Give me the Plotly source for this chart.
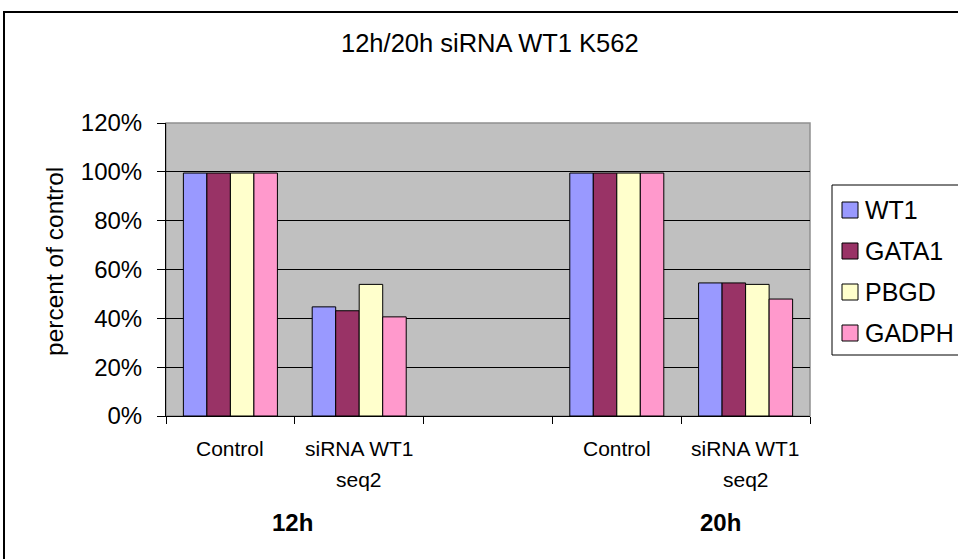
import plotly.graph_objects as go

# ---- data ----
categories = [["Control"], ["siRNA WT1", "seq2"], [], ["Control"], ["siRNA WT1", "seq2"]]
x_pos = [0, 1, 3, 4]
series_names = ["WT1", "GATA1", "PBGD", "GADPH"]
wt1 = [0.995, 0.447, 0.995, 0.545]
gata1 = [0.995, 0.431, 0.995, 0.545]
pbgd = [0.995, 0.539, 0.995, 0.539]
gadph = [0.995, 0.406, 0.995, 0.479]
colors = ["#9999FF", "#993366", "#FFFFCC", "#FF99CC"]
group_labels = ["12h", "20h"]
y_ticks = [0, 0.2, 0.4, 0.6, 0.8, 1.0, 1.2]

W, H = 958, 559
L, R, T, B = 166, 810, 123, 416
FONT = "Liberation Sans, Arial, sans-serif"


def px(x):
    return (x - L) / (R - L)


def py(y):
    return (B - y) / (B - T)


fig = go.Figure()
for name, vals, c in zip(series_names, [wt1, gata1, pbgd, gadph], colors):
    fig.add_trace(go.Bar(
        x=x_pos, y=vals, name=name, showlegend=False,
        marker=dict(color=c, line=dict(color="#000000", width=1)),
    ))

annotations = []
shapes = [
    # outer chart border
    dict(type="rect", xref="paper", yref="paper",
         x0=px(4), x1=px(975), y0=py(580), y1=py(12),
         line=dict(color="#000000", width=2), layer="below"),
    # plot area border
    dict(type="rect", xref="paper", yref="paper",
         x0=0, x1=1, y0=0, y1=1, line=dict(color="#909090", width=1.5), layer="below"),
]

# category labels (multi-line)
line_y = [448, 479]
for i, lines in enumerate(categories):
    for j, txt in enumerate(lines):
        annotations.append(dict(
            x=i, xref="x", y=py(line_y[j]), yref="paper", text=txt, showarrow=False,
            xanchor="center", yanchor="middle",
            font=dict(size=21, family=FONT, color="#000"),
        ))
# group labels
for lab, xp in zip(group_labels, [292, 720]):
    annotations.append(dict(
        x=px(xp), xref="paper", y=py(522), yref="paper", text="<b>%s</b>" % lab,
        showarrow=False, xanchor="center", yanchor="middle",
        font=dict(size=24, family=FONT, color="#000"),
    ))
# y axis title
annotations.append(dict(
    x=px(54), xref="paper", y=py(262), yref="paper", text="percent of control",
    textangle=-90, showarrow=False, xanchor="center", yanchor="middle",
    font=dict(size=24.5, family=FONT, color="#000"),
))
# chart title
annotations.append(dict(
    x=px(490), xref="paper", y=py(43), yref="paper", text="12h/20h siRNA WT1 K562",
    showarrow=False, xanchor="center", yanchor="middle",
    font=dict(size=25.5, family=FONT, color="#000"),
))

# legend (box, swatches, labels)
shapes.append(dict(type="rect", xref="paper", yref="paper",
                   x0=px(832), x1=px(990), y0=py(355), y1=py(185),
                   line=dict(color="#000000", width=1), fillcolor="#FFFFFF"))
for k, (name, c) in enumerate(zip(series_names, colors)):
    cy = 210 + 41 * k
    shapes.append(dict(type="rect", xref="paper", yref="paper",
                       x0=px(842), x1=px(858), y0=py(cy + 8), y1=py(cy - 8),
                       line=dict(color="#000000", width=1), fillcolor=c))
    annotations.append(dict(
        x=px(863), xref="paper", y=py(cy), yref="paper", text=name,
        showarrow=False, xanchor="left", yanchor="middle",
        font=dict(size=25, family=FONT, color="#000"),
    ))

fig.update_layout(
    width=W, height=H,
    margin=dict(l=L, r=W - R, t=T, b=H - B),
    paper_bgcolor="#FFFFFF",
    plot_bgcolor="#C0C0C0",
    barmode="group", bargap=0.27, bargroupgap=0,
    font=dict(family=FONT, color="#000000"),
    showlegend=False,
    annotations=annotations,
    shapes=shapes,
    xaxis=dict(
        range=[-0.5, 4.5], tickmode="array",
        tickvals=[-0.5, 0.5, 1.5, 2.5, 3.5, 4.5], ticktext=[""] * 6,
        ticks="outside", ticklen=7, tickcolor="#000", showgrid=False,
        showline=True, linecolor="#000", linewidth=1, zeroline=False,
    ),
    yaxis=dict(
        range=[0, 1.2], tickmode="array", tickvals=y_ticks,
        ticktext=["%d%%" % round(v * 100) for v in y_ticks],
        ticks="outside", ticklen=8, tickcolor="#000", ticklabelstandoff=10,
        tickfont=dict(size=24, family=FONT),
        showgrid=True, gridcolor="#000000", gridwidth=1,
        showline=True, linecolor="#000", linewidth=1, zeroline=False,
    ),
)

fig.write_html("out.html")
